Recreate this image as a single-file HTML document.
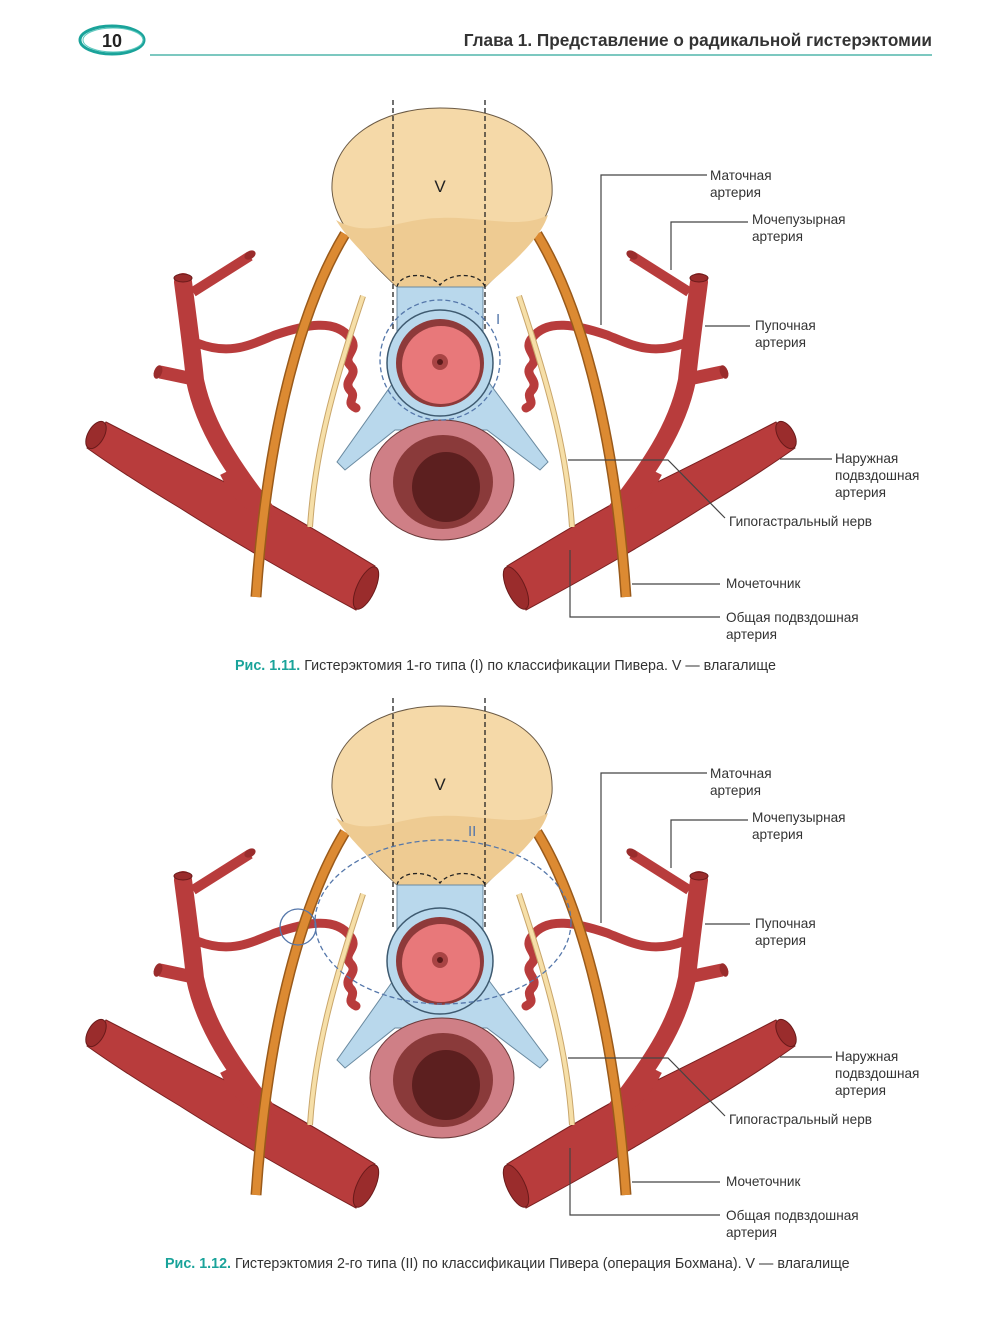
<!DOCTYPE html>
<html><head><meta charset="utf-8"><style>
html,body{margin:0;padding:0;background:#fff}
svg{display:block}
text{font-family:"Liberation Sans",sans-serif}
.l{font-size:13.6px;fill:#333}
.ll{fill:none;stroke:#444;stroke-width:1.2}
</style></head><body>
<svg width="1000" height="1333" viewBox="0 0 1000 1333" xmlns="http://www.w3.org/2000/svg">
<defs>
<g id="side">
  <!-- big vessel -->
  <path d="M106,422 C170,455 230,485 262,500 C300,520 340,545 375,566 L356,610 C300,580 230,540 180,508 C150,490 115,468 87,448 Z" fill="#b83c3c" stroke="#7a2020" stroke-width="1"/>
  <ellipse cx="96" cy="435" rx="8" ry="15" transform="rotate(30 96 435)" fill="#9a2c2c" stroke="#6a1a1a"/>
  <ellipse cx="366" cy="588" rx="9" ry="23" transform="rotate(25 366 588)" fill="#9a2c2c" stroke="#6a1a1a"/>
  <!-- internal iliac -->
  <path d="M183,282 C188,320 192,350 195,380 C205,430 235,470 265,510" fill="none" stroke="#b83c3c" stroke-width="18" stroke-linecap="round"/>
  <path d="M230,470 C240,490 250,500 262,505" fill="none" stroke="#b83c3c" stroke-width="22"/>
  <path d="M193,292 L250,256" fill="none" stroke="#b83c3c" stroke-width="10"/>
  <ellipse cx="250" cy="255" rx="4" ry="6" transform="rotate(60 250 255)" fill="#9a2c2c"/>
  <ellipse cx="183" cy="278" rx="9" ry="4" fill="#9a2c2c" stroke="#6a1a1a"/>
  <path d="M198,380 L160,372" fill="none" stroke="#b83c3c" stroke-width="13"/>
  <ellipse cx="158" cy="372" rx="4" ry="7" transform="rotate(20 158 372)" fill="#9a2c2c"/>
  <!-- uterine artery -->
  <path d="M197,343 C230,356 250,345 275,335 C305,325 335,318 350,338 C360,350 342,355 350,365 C360,375 342,380 350,390 C358,398 344,402 356,408" fill="none" stroke="#b83c3c" stroke-width="9" stroke-linecap="round"/>
  <!-- ureter -->
  <path d="M345,234 C305,300 268,420 256,597" fill="none" stroke="#9a5a1a" stroke-width="11"/>
  <path d="M345,234 C305,300 268,420 256,597" fill="none" stroke="#dc8a32" stroke-width="8"/>
  <!-- nerve -->
  <path d="M363,296 C335,380 315,450 310,527" fill="none" stroke="#c9a66b" stroke-width="6"/>
  <path d="M363,296 C335,380 315,450 310,527" fill="none" stroke="#f6dfa8" stroke-width="4"/>
</g>
<g id="fig">
  <use href="#side"/>
  <use href="#side" transform="translate(882,0) scale(-1,1)"/>
  <!-- V -->
  <path d="M332,190 C330,140 380,108 440,108 C510,108 555,140 552,195 C548,230 510,262 485,287 L397,287 C370,262 334,225 332,190 Z" fill="#f5d9a8" stroke="#6b5a45" stroke-width="1"/>
  <path d="M336,220 C370,240 400,218 440,218 C480,216 520,230 548,215 C540,240 510,265 485,287 L397,287 C372,262 348,240 336,220 Z" fill="#eecb92"/>
  <path d="M397,287 C400,272 430,272 440,285 C450,272 480,272 485,287" fill="none" stroke="#222" stroke-width="1.3" stroke-dasharray="4,3"/>
  <!-- blue ligaments -->
  <path d="M397,287 L483,287 L483,330 L487,380 L548,462 L540,470 L487,430 L395,430 L345,470 L337,462 L395,380 L397,330 Z" fill="#b9d8ec" stroke="#6a8aa0" stroke-width="1"/>
  <!-- cervix -->
  <circle cx="440" cy="363" r="53" fill="#b9d8ec" stroke="#3e5a70" stroke-width="1.5"/>
  <circle cx="440" cy="363" r="44" fill="#8e3a3a"/>
  <circle cx="441" cy="365" r="39" fill="#e8787a"/>
  <circle cx="440" cy="362" r="8" fill="#a84444"/>
  <circle cx="440" cy="362" r="3" fill="#5a1a1a"/>
  <!-- rectum -->
  <ellipse cx="442" cy="480" rx="72" ry="60" fill="#cf7f86" stroke="#6b3a3a"/>
  <ellipse cx="443" cy="482" rx="50" ry="47" fill="#8a3a3a"/>
  <ellipse cx="446" cy="487" rx="34" ry="35" fill="#5c1f1f"/>
  <!-- dashed lines -->
  <line x1="393" y1="100" x2="393" y2="330" stroke="#222" stroke-width="1.3" stroke-dasharray="5,3"/>
  <line x1="485" y1="100" x2="485" y2="330" stroke="#222" stroke-width="1.3" stroke-dasharray="5,3"/>
  <text x="440" y="192" font-size="17" text-anchor="middle" fill="#222">V</text>
  <!-- leaders -->
  <path class="ll" d="M707,175 H601 V325"/>
  <path class="ll" d="M748,222 H671 V270"/>
  <path class="ll" d="M705,326 H750"/>
  <path class="ll" d="M780,459 H832"/>
  <path class="ll" d="M568,460 H668 L725,518"/>
  <path class="ll" d="M632,584 H720"/>
  <path class="ll" d="M720,617 H570 V550"/>
  <text class="l" x="710" y="180">Маточная</text><text class="l" x="710" y="197">артерия</text>
  <text class="l" x="752" y="224">Мочепузырная</text><text class="l" x="752" y="241">артерия</text>
  <text class="l" x="755" y="330">Пупочная</text><text class="l" x="755" y="347">артерия</text>
  <text class="l" x="835" y="463">Наружная</text><text class="l" x="835" y="480">подвздошная</text><text class="l" x="835" y="497">артерия</text>
  <text class="l" x="729" y="526">Гипогастральный нерв</text>
  <text class="l" x="726" y="588">Мочеточник</text>
  <text class="l" x="726" y="622">Общая подвздошная</text><text class="l" x="726" y="639">артерия</text>
</g>
</defs>
<!-- header -->
<ellipse cx="112" cy="40" rx="32" ry="14" fill="none" stroke="#1aa39a" stroke-width="3"/>
<ellipse cx="113" cy="40" rx="30" ry="12" fill="none" stroke="#5cc8be" stroke-width="1"/>
<text x="112" y="47" font-size="18" font-weight="bold" text-anchor="middle" fill="#222">10</text>
<text x="932" y="46" font-size="17.2" font-weight="bold" text-anchor="end" fill="#333">Глава 1. Представление о радикальной гистерэктомии</text>
<line x1="150" y1="55" x2="932" y2="55" stroke="#7cc8c0" stroke-width="2"/>
<use href="#fig"/>
<circle cx="440" cy="360" r="60" fill="none" stroke="#5577aa" stroke-width="1.3" stroke-dasharray="5,3"/>
<text x="496" y="324" font-size="15" fill="#5577aa">I</text>
<text x="235" y="670" font-size="14.3" fill="#333"><tspan fill="#1aa39a" font-weight="bold">Рис. 1.11.</tspan> Гистерэктомия 1-го типа (I) по классификации Пивера. V — влагалище</text>
<use href="#fig" y="598"/>
<ellipse cx="443" cy="922" rx="128" ry="82" fill="none" stroke="#5577aa" stroke-width="1.3" stroke-dasharray="5,3"/>
<circle cx="298" cy="927" r="18" fill="none" stroke="#5577aa" stroke-width="1.3"/>
<text x="468" y="836" font-size="15" fill="#5577aa">II</text>
<text x="165" y="1268" font-size="14.3" fill="#333"><tspan fill="#1aa39a" font-weight="bold">Рис. 1.12.</tspan> Гистерэктомия 2-го типа (II) по классификации Пивера (операция Бохмана). V — влагалище</text>
</svg>
</body></html>
